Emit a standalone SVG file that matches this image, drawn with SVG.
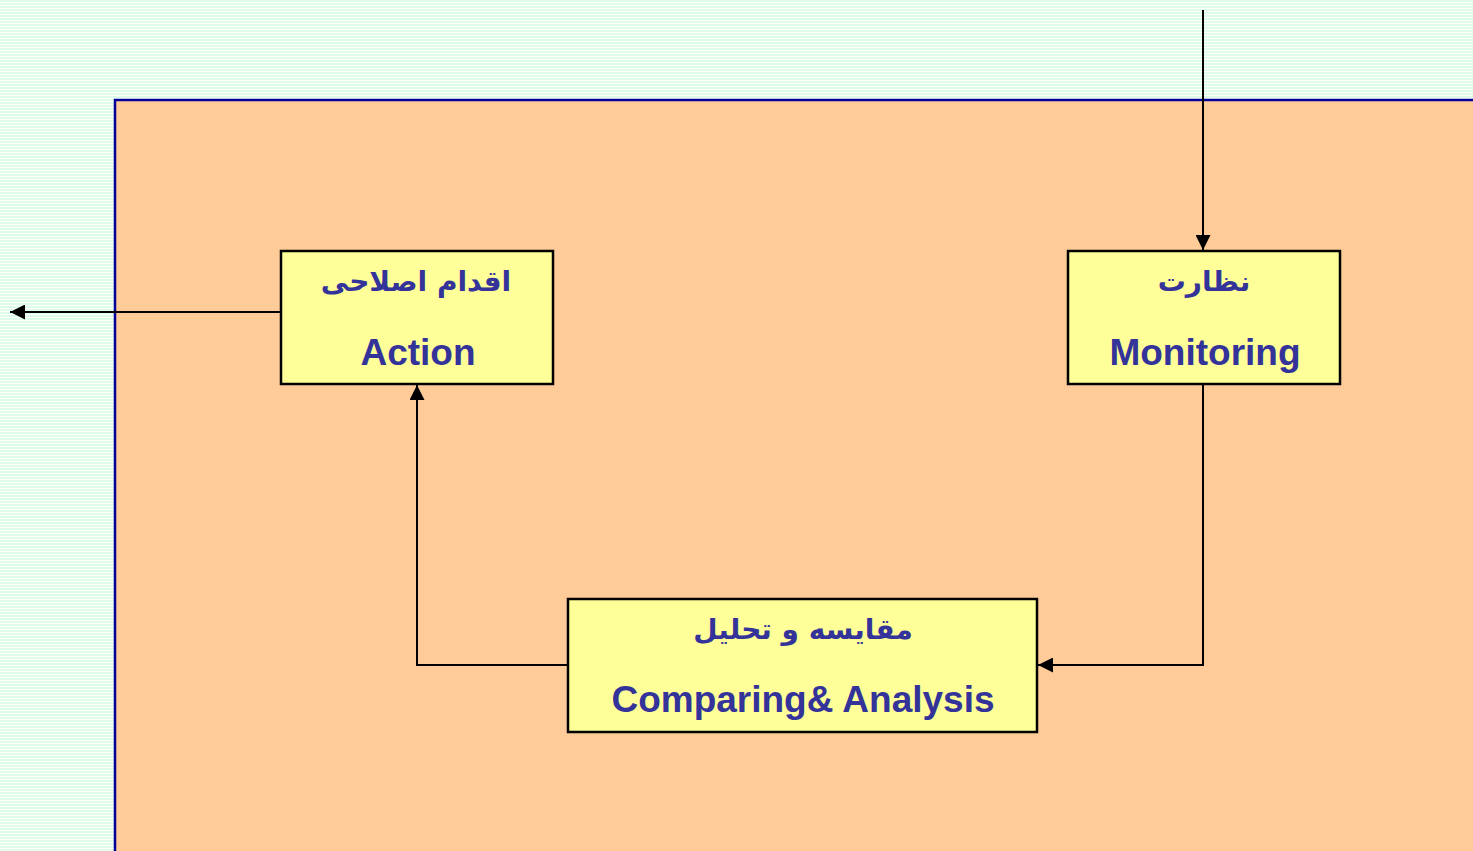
<svg xmlns="http://www.w3.org/2000/svg" width="1473" height="851" viewBox="0 0 1473 851">
<defs>
<pattern id="stripes" width="8" height="3" patternUnits="userSpaceOnUse">
<rect width="8" height="3" fill="#ffffff"/>
<rect width="8" height="2" fill="#ddfde8"/>
</pattern>
<marker id="arr" viewBox="0 0 10 10" refX="10" refY="5" markerWidth="15" markerHeight="15" markerUnits="userSpaceOnUse" orient="auto">
<path d="M0,0 L10,5 L0,10 Z" fill="#000"/>
</marker>
</defs>
<style>
.box{fill:#ffff99;stroke:#000;stroke-width:2.5}
.fa{font-family:"DejaVu Sans","Noto Sans",sans-serif;font-weight:bold;font-size:28px;fill:#333399;text-anchor:middle}
.en{font-family:"Liberation Sans",Arial,sans-serif;font-weight:bold;font-size:37px;fill:#333399;text-anchor:middle}
.conn{fill:none;stroke:#000;stroke-width:2;marker-end:url(#arr)}
</style>
<rect width="1473" height="851" fill="url(#stripes)"/>
<rect id="panel" x="115" y="100" width="1370" height="770" fill="#ffcc99" stroke="#000099" stroke-width="2.5"/>
<g id="connectors">
<path class="conn" d="M1203,10 V250"/>
<path class="conn" d="M1203,385 V665 H1038"/>
<path class="conn" d="M568,665 H417 V385"/>
<path class="conn" d="M281,312 H10"/>
</g>
<g id="action">
<rect class="box" x="281" y="251" width="272" height="133"/>
<text class="fa" x="416" y="291" direction="rtl">اقدام اصلاحی</text>
<text class="en" x="418" y="365">Action</text>
</g>
<g id="monitoring">
<rect class="box" x="1068" y="251" width="272" height="133"/>
<text class="fa" x="1204" y="291" direction="rtl">نظارت</text>
<text class="en" x="1205" y="365">Monitoring</text>
</g>
<g id="comparing">
<rect class="box" x="568" y="599" width="469" height="133"/>
<text class="fa" x="803" y="639" direction="rtl">مقایسه و تحلیل</text>
<text class="en" x="803" y="712">Comparing&amp; Analysis</text>
</g>
</svg>
